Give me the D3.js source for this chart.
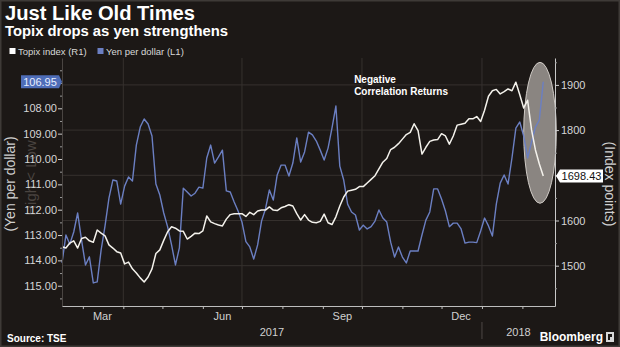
<!DOCTYPE html>
<html><head><meta charset="utf-8">
<script src="https://cdn.jsdelivr.net/npm/d3@7"></script>
<style>
html,body{margin:0;padding:0;background:#1c1816;}
svg{display:block;}
text{font-family:"Liberation Sans",Arial,sans-serif;}
</style></head><body>
<svg id="chart" width="620" height="347"></svg>
<script>
// ---- data ----
const dates = ["2017-02-13","2017-02-16","2017-02-19","2017-02-22","2017-02-25","2017-02-28","2017-03-03","2017-03-06","2017-03-09","2017-03-12",
"2017-03-15","2017-03-18","2017-03-21","2017-03-24","2017-03-27","2017-03-30","2017-04-02","2017-04-05","2017-04-08","2017-04-11",
"2017-04-14","2017-04-17","2017-04-20","2017-04-23","2017-04-26","2017-04-29","2017-05-02","2017-05-05","2017-05-08","2017-05-11",
"2017-05-14","2017-05-17","2017-05-20","2017-05-23","2017-05-26","2017-05-29","2017-06-01","2017-06-04","2017-06-07","2017-06-10",
"2017-06-13","2017-06-16","2017-06-19","2017-06-22","2017-06-25","2017-06-28","2017-07-01","2017-07-04","2017-07-07","2017-07-10",
"2017-07-13","2017-07-16","2017-07-19","2017-07-22","2017-07-25","2017-07-28","2017-07-31","2017-08-03","2017-08-06","2017-08-09",
"2017-08-12","2017-08-15","2017-08-18","2017-08-21","2017-08-24","2017-08-27","2017-08-30","2017-09-02","2017-09-05","2017-09-08",
"2017-09-11","2017-09-14","2017-09-17","2017-09-20","2017-09-23","2017-09-26","2017-09-29","2017-10-02","2017-10-05","2017-10-08",
"2017-10-11","2017-10-14","2017-10-17","2017-10-20","2017-10-23","2017-10-26","2017-10-29","2017-11-01","2017-11-04","2017-11-07",
"2017-11-10","2017-11-13","2017-11-16","2017-11-19","2017-11-22","2017-11-25","2017-11-28","2017-12-01","2017-12-04","2017-12-07",
"2017-12-10","2017-12-13","2017-12-16","2017-12-19","2017-12-22","2017-12-25","2017-12-28","2017-12-31","2018-01-03","2018-01-06",
"2018-01-09","2018-01-12","2018-01-15","2018-01-18","2018-01-21","2018-01-24","2018-01-27","2018-01-30","2018-02-02","2018-02-05",
"2018-02-08","2018-02-11","2018-02-14","2018-02-17"];

const yenPerDollar = [114.10,113.00,113.36,112.88,112.13,113.20,114.18,113.86,114.89,114.85,
113.59,112.64,111.54,110.83,110.87,111.78,111.07,110.71,110.87,109.45,
108.74,108.42,108.62,109.09,110.99,111.42,112.13,112.68,113.39,114.18,
113.51,111.15,111.30,111.46,111.35,111.11,111.15,109.96,109.45,110.16,
109.92,109.65,111.26,111.30,111.70,112.05,112.49,113.26,113.47,113.95,
113.39,112.45,111.97,111.22,111.62,110.63,110.24,110.24,110.67,110.16,
109.17,110.12,109.72,108.94,109.05,109.29,109.65,110.04,109.57,108.78,
107.91,110.28,110.83,111.78,112.09,112.21,112.80,112.61,112.76,112.67,
112.45,112.01,112.33,112.49,113.28,113.87,113.47,113.87,114.10,113.63,
113.63,113.63,113.00,112.41,112.09,111.18,111.18,111.58,112.05,112.67,
112.53,112.53,112.76,113.32,113.28,113.28,113.30,112.84,112.33,112.64,
113.04,111.78,110.95,110.63,110.99,109.96,108.78,108.54,109.09,109.96,
109.33,108.74,108.46,106.95];

const topixIndex = [1542,1539,1550,1555,1539,1560,1563,1555,1552,1579,
1572,1566,1546,1539,1531,1528,1504,1508,1493,1484,
1473,1464,1475,1493,1527,1535,1556,1575,1586,1583,
1577,1576,1559,1565,1572,1571,1577,1610,1597,1593,
1590,1588,1603,1613,1615,1615,1615,1609,1618,1613,
1621,1623,1623,1630,1623,1622,1628,1631,1635,1632,
1615,1601,1613,1601,1596,1595,1598,1614,1595,1591,
1608,1632,1652,1665,1667,1669,1675,1675,1683,1691,
1699,1714,1729,1737,1757,1762,1770,1780,1790,1795,
1814,1799,1747,1762,1775,1778,1779,1792,1787,1769,
1787,1811,1813,1815,1825,1825,1830,1819,1844,1875,
1887,1890,1880,1885,1891,1887,1906,1878,1849,1866,
1801,1756,1725,1698.43];

const leftTicks = [108,109,110,111,112,113,114,115];
const leftMinorTicks = [106.5,107,107.5,108.5,109.5,110.5,111.5,112.5,113.5,114.5,115.5];
const rightTicks = [1500,1600,1700,1800,1900];
const rightMinorTicks = [1450,1550,1650,1750,1850,1950];
const monthTickDates = ["2017-03-01","2017-04-01","2017-05-01","2017-06-01","2017-07-01","2017-08-01","2017-09-01","2017-10-01","2017-11-01","2017-12-01","2018-01-01","2018-02-01"];
const gridDates = ["2017-04-01","2017-07-01","2017-10-01","2018-01-01"];
const monthLabels = ["Mar","Jun","Sep","Dec"];
const monthLabelDates = ["2017-03-16","2017-06-16","2017-09-16","2017-12-16"];
const yearLabels = ["2017","2018"];
const xDomain = ["2017-02-13","2018-02-26"];

// ---- drawing ----
const parse = d3.timeParse("%Y-%m-%d");
const svg = d3.select("#chart");
const W = 620, H = 347;
const L = 62, R = 555, T = 58, B = 306;

svg.append("rect").attr("x",0).attr("y",0).attr("width",W).attr("height",H).attr("fill","#1c1816");
svg.append("rect").attr("x",0.75).attr("y",0.75).attr("width",W-1.5).attr("height",H-1.5)
  .attr("fill","none").attr("stroke","#3e3a37").attr("stroke-width",1.5);

const x = d3.scaleTime().domain(xDomain.map(parse)).range([L,R]);
const yL = d3.scaleLinear().domain([106.015,115.80]).range([T,B]);
const yR = d3.scaleLinear().domain([1959.5,1410.8]).range([T,B]);

const rows = dates.map((d,i)=>({date:parse(d), yen:yenPerDollar[i], topix:topixIndex[i]}));
const lastYen = yenPerDollar[yenPerDollar.length-1];
const lastTopix = topixIndex[topixIndex.length-1];

// grid
svg.append("g").selectAll("line").data(rightTicks).join("line")
  .attr("x1",L).attr("x2",R).attr("y1",d=>yR(d)).attr("y2",d=>yR(d))
  .attr("stroke","#36312e").attr("stroke-width",1);
svg.append("g").selectAll("line").data(gridDates).join("line")
  .attr("x1",d=>x(parse(d))).attr("x2",d=>x(parse(d))).attr("y1",T).attr("y2",B)
  .attr("stroke","#36312e").attr("stroke-width",1);

// faint direction watermark on left axis
svg.append("text").attr("transform",`translate(36,${(T+B)/2-4}) rotate(-90)`)
  .attr("text-anchor","middle").attr("fill","#4a4440").attr("font-size",15)
  .text("High < Low");

// highlight ellipse
const eX0 = x(parse("2018-02-02")), eX1 = x(parse("2018-02-27"));
const eY0 = yR(1950), eY1 = yR(1638);
svg.append("ellipse").attr("cx",(eX0+eX1)/2).attr("cy",(eY0+eY1)/2)
  .attr("rx",(eX1-eX0)/2).attr("ry",(eY1-eY0)/2)
  .attr("fill","#8a8581").attr("stroke","#cfcac5").attr("stroke-width",1);

// lines
svg.append("path").datum(rows).attr("fill","none").attr("stroke","#6b7fc2").attr("stroke-width",1.4)
  .attr("stroke-linejoin","round")
  .attr("d",d3.line().x(d=>x(d.date)).y(d=>yL(d.yen)));
svg.append("path").datum(rows).attr("fill","none").attr("stroke","#f4f2ec").attr("stroke-width",1.5)
  .attr("stroke-linejoin","round")
  .attr("d",d3.line().x(d=>x(d.date)).y(d=>yR(d.topix)));

// left axis
const gL = svg.append("g").attr("transform",`translate(${L},0)`)
  .call(d3.axisLeft(yL).tickValues(leftTicks).tickSize(4).tickSizeOuter(0).tickPadding(1).tickFormat(d3.format(".2f")));
gL.select(".domain").attr("stroke","#4a4542");
gL.selectAll(".tick line").attr("stroke","#cfcfcf");
gL.selectAll(".tick text").attr("fill","#d6d6d6").attr("font-size",11).style("font-family","Liberation Sans, Arial, sans-serif");
svg.append("g").attr("transform",`translate(${L},0)`)
  .call(d3.axisLeft(yL).tickValues(leftMinorTicks).tickSize(2).tickSizeOuter(0).tickFormat(""))
  .call(g=>g.select(".domain").remove()).selectAll("line").attr("stroke","#9a9a9a");

// right axis (the tick hidden behind the last-value tag gets no label)
const gR = svg.append("g").attr("transform",`translate(${R},0)`)
  .call(d3.axisRight(yR).tickValues(rightTicks).tickSize(4).tickSizeOuter(0).tickPadding(2)
    .tickFormat(d => Math.abs(yR(d)-yR(lastTopix)) < 12 ? "" : d3.format("d")(d)));
gR.select(".domain").attr("stroke","#c8c8c8");
gR.selectAll(".tick line").attr("stroke","#cfcfcf");
gR.selectAll(".tick text").attr("fill","#d6d6d6").attr("font-size",11).style("font-family","Liberation Sans, Arial, sans-serif");
svg.append("g").attr("transform",`translate(${R},0)`)
  .call(d3.axisRight(yR).tickValues(rightMinorTicks).tickSize(2).tickSizeOuter(0).tickFormat(""))
  .call(g=>g.select(".domain").remove()).selectAll("line").attr("stroke","#9a9a9a");

// bottom axis
const gB = svg.append("g").attr("transform",`translate(0,${B})`)
  .call(d3.axisBottom(x).tickValues(monthTickDates.map(parse)).tickSize(3).tickSizeOuter(0).tickFormat(""));
gB.select(".domain").attr("stroke","#bdbdbd");
gB.selectAll(".tick line").attr("stroke","#bdbdbd");

svg.append("g").selectAll("text").data(monthLabels).join("text")
  .attr("x",(d,i)=>x(parse(monthLabelDates[i]))).attr("y",B+14).attr("text-anchor","middle")
  .attr("fill","#d0d0d0").attr("font-size",11).text(d=>d);
const yearMid = [ (x.range()[0]+x(parse("2018-01-01")))/2, (x(parse("2018-01-01"))+x.range()[1])/2 ];
svg.append("g").selectAll("text").data(yearLabels).join("text")
  .attr("x",(d,i)=>yearMid[i]).attr("y",B+30).attr("text-anchor","middle")
  .attr("fill","#d0d0d0").attr("font-size",11).text(d=>d);
svg.append("line").attr("x1",x(parse("2018-01-01"))).attr("x2",x(parse("2018-01-01")))
  .attr("y1",B+16).attr("y2",B+33).attr("stroke","#4d4845").attr("stroke-width",1);

// axis titles
svg.append("text").attr("transform",`translate(15,${(T+B)/2+2}) rotate(-90)`)
  .attr("text-anchor","middle").attr("fill","#cfcfcf").attr("font-size",14).text("(Yen per dollar)");
svg.append("text").attr("transform",`translate(605,${(T+B)/2+2}) rotate(90)`)
  .attr("text-anchor","middle").attr("fill","#cfcfcf").attr("font-size",14).text("(Index points)");

// last value labels
const yy = yL(lastYen);
svg.append("path").attr("d",`M${L-41},${yy-6.5}H${L-3}L${L},${yy}L${L-3},${yy+6.5}H${L-41}Z`).attr("fill","#4e6db8");
svg.append("text").attr("x",L-22).attr("y",yy+4).attr("text-anchor","middle").attr("fill","#e8eeff")
  .attr("font-size",11).text(d3.format(".2f")(lastYen));
const yt = yR(lastTopix);
svg.append("path").attr("d",`M${R+1},${yt}L${R+5},${yt-6.5}H${R+48}V${yt+6.5}H${R+5}Z`).attr("fill","#ffffff");
svg.append("text").attr("x",R+26.5).attr("y",yt+4).attr("text-anchor","middle").attr("fill","#111")
  .attr("font-size",11).text(d3.format(".2f")(lastTopix));

// annotation
const ax = x(parse("2017-09-25"));
svg.append("text").attr("x",ax).attr("y",83).attr("fill","#ffffff").attr("font-size",10).attr("font-weight","bold").text("Negative");
svg.append("text").attr("x",ax).attr("y",95).attr("fill","#ffffff").attr("font-size",10).attr("font-weight","bold").text("Correlation Returns");

// title, subtitle, legend
svg.append("text").attr("x",5).attr("y",20).attr("fill","#ffffff").attr("font-size",20).attr("font-weight","bold")
  .attr("textLength",190).attr("lengthAdjust","spacingAndGlyphs").text("Just Like Old Times");
svg.append("text").attr("x",5).attr("y",36).attr("fill","#ffffff").attr("font-size",14).attr("font-weight","bold")
  .attr("textLength",223).attr("lengthAdjust","spacingAndGlyphs").text("Topix drops as yen strengthens");

const legend = [{label:"Topix index (R1)", color:"#ffffff", x:9.5},{label:"Yen per dollar (L1)", color:"#6b7fc2", x:97.5}];
const lg = svg.append("g").selectAll("g").data(legend).join("g").attr("transform",d=>`translate(${d.x},48)`);
lg.append("rect").attr("width",6).attr("height",6).attr("fill",d=>d.color);
lg.append("text").attr("x",8.5).attr("y",7).attr("fill","#d8d8d8").attr("font-size",9.5).text(d=>d.label);

// footer
svg.append("text").attr("x",7).attr("y",342).attr("fill","#ffffff").attr("font-size",10).attr("font-weight","bold").text("Source: TSE");
svg.append("text").attr("x",603).attr("y",341).attr("text-anchor","end").attr("fill","#ffffff").attr("font-size",12).attr("font-weight","bold").text("Bloomberg");
svg.append("rect").attr("x",606).attr("y",332).attr("width",8).attr("height",10).attr("fill","#d8d8d8");
svg.append("path").attr("d","M608,334h4v3h-2v3h-2z").attr("fill","#1c1816");
</script>
</body></html>
